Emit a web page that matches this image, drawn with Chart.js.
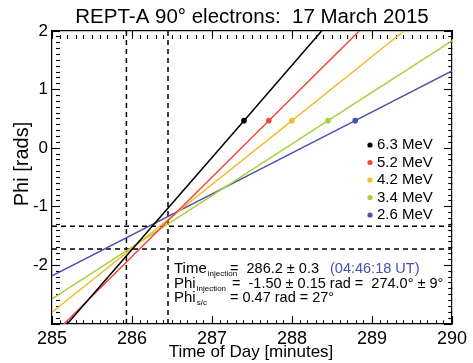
<!DOCTYPE html>
<html>
<head>
<meta charset="utf-8">
<script src="https://cdn.jsdelivr.net/npm/chart.js@4"></script>
<style>
  html, body { margin: 0; padding: 0; background: #fff; }
</style>
</head>
<body>
<canvas id="chart" width="473" height="363"></canvas>
<script>
// values
const energies = ["6.3 MeV", "5.2 MeV", "4.2 MeV", "3.4 MeV", "2.6 MeV"];
const colors = ["#000000", "#f0483c", "#f2bc2c", "#a6d23c", "#4a4fae"];
const lineStart = [[285.19, -3], [285.15, -3], [285.0, -2.80], [285.0, -2.57], [285.0, -2.18]];
const dotTimes = [287.40, 287.71, 288.00, 288.45, 288.79];
const phiSc = 0.47;
const lineEnd = [[288.37, 2], [288.84, 2], [289.40, 2], [290.0, 1.83], [290.0, 1.32]];
const timeBounds = [285.93, 286.45];
const phiBounds = [-1.33, -1.72];
const xTicks = [285, 286, 287, 288, 289, 290];
const yTicks = [-3, -2, -1, 0, 1, 2];
const minorStep = 0.1;

const FONT = "'Liberation Sans', Arial, sans-serif";

const datasets = energies.map((e, i) => ({
  label: e,
  data: [
    { x: lineStart[i][0], y: lineStart[i][1] },
    { x: dotTimes[i], y: phiSc },
    { x: lineEnd[i][0], y: lineEnd[i][1] }
  ],
  showLine: true,
  borderColor: colors[i],
  backgroundColor: colors[i],
  borderWidth: 1.5,
  pointRadius: [0, 2.8, 0],
  pointBorderWidth: 0
}));

timeBounds.forEach(t => datasets.push({
  label: "",
  data: [{ x: t, y: yTicks[0] }, { x: t, y: yTicks[yTicks.length - 1] }],
  showLine: true, borderColor: "#000", borderWidth: 1.5, borderDash: [5, 4], pointRadius: 0
}));
phiBounds.forEach(p => datasets.push({
  label: "",
  data: [{ x: xTicks[0], y: p }, { x: xTicks[xTicks.length - 1], y: p }],
  showLine: true, borderColor: "#000", borderWidth: 1.5, borderDash: [5, 4], pointRadius: 0
}));

// all tick positions (major + minor) for one axis
function allTicks(major) {
  const lo = major[0], hi = major[major.length - 1];
  const n = Math.round((hi - lo) / minorStep);
  const out = [];
  for (let i = 0; i <= n; i++) out.push({ value: +(lo + i * minorStep).toFixed(2) });
  return out;
}
const isMajor = (major, v) => major.some(m => Math.abs(m - v) < 1e-6);

// inward IDL-style ticks drawn by the axes themselves
function axis(major, position, showLabels, size, fontSize, pad) {
  return {
    type: "linear",
    position,
    display: true,
    min: major[0],
    max: major[major.length - 1],
    afterBuildTicks: s => { s.ticks = allTicks(major); },
    ticks: {
      display: showLabels,
      autoSkip: false,
      maxRotation: 0,
      color: "#000",
      font: { family: FONT, size: fontSize },
      padding: pad,
      callback: v => (isMajor(major, v) && v !== yTicks[0] ? v : "")
    },
    grid: {
      display: true,
      drawOnChartArea: false,
      drawTicks: true,
      tickLength: -8,
      tickColor: "#000",
      tickWidth: 1.1,
      tickBorderDash: c => (c.tick && isMajor(major, c.tick.value) ? [] : [4, 30])
    },
    border: { display: true, color: "#000", width: 1.2 },
    afterFit: s => {
      if (position === "bottom" || position === "top") {
        s.height = size;
        s.paddingLeft = 0;
        s.paddingRight = 0;
      } else {
        s.width = size;
        s.paddingTop = 0;
        s.paddingBottom = 0;
      }
    }
  };
}

function subText(ctx, x, y, main, sub, size) {
  ctx.font = size + "px " + FONT;
  ctx.fillText(main, x, y);
  const w = ctx.measureText(main).width;
  ctx.font = Math.round(size * 0.5) + "px " + FONT;
  ctx.fillText(sub, x + w + 1, y + 3);
}

const decorations = {
  id: "decorations",
  afterDraw(chart) {
    const ctx = chart.ctx;
    ctx.save();
    ctx.fillStyle = "#000";
    ctx.textAlign = "center";
    ctx.textBaseline = "alphabetic";
    ctx.font = "20.5px " + FONT;
    ctx.fillText("REPT-A 90\u00b0 electrons:  17 March 2015", 252, 23);

    ctx.font = "17px " + FONT;
    ctx.fillText("Time of Day [minutes]", 251, 357);

    ctx.save();
    ctx.translate(28, 164);
    ctx.rotate(-Math.PI / 2);
    ctx.font = "20px " + FONT;
    ctx.fillText("Phi [rads]", 0, 0);
    ctx.restore();

    // legend
    ctx.textAlign = "left";
    ctx.textBaseline = "middle";
    ctx.font = "15px " + FONT;
    energies.forEach((e, i) => {
      const ly = 145 + i * 17.5;
      ctx.fillStyle = colors[i];
      ctx.beginPath();
      ctx.arc(370, ly, 2.6, 0, Math.PI * 2);
      ctx.fill();
      ctx.fillStyle = "#000";
      ctx.fillText(e, 377, ly);
    });

    // injection text box
    ctx.textBaseline = "alphabetic";
    ctx.fillStyle = "#000";
    subText(ctx, 174, 273, "Time", "injection", 15);
    ctx.font = "14.5px " + FONT;
    ctx.fillText("=  286.2 \u00b1 0.3", 230, 273);
    ctx.fillStyle = "#4a4fae";
    ctx.fillText("(04:46:18 UT)", 330, 273);
    ctx.fillStyle = "#000";
    subText(ctx, 174, 288, "Phi", "injection", 15);
    ctx.font = "14.5px " + FONT;
    ctx.fillText("=  -1.50 \u00b1 0.15 rad =  274.0\u00b0 \u00b1 9\u00b0", 232, 288);
    subText(ctx, 174, 302, "Phi", "s/c", 15);
    ctx.font = "14.5px " + FONT;
    ctx.fillText("= 0.47 rad = 27\u00b0", 230, 302);
    ctx.restore();
  }
};

new Chart(document.getElementById("chart"), {
  type: "scatter",
  data: { datasets },
  options: {
    responsive: false,
    animation: false,
    devicePixelRatio: 1,
    layout: { padding: { left: 0, right: 21, top: 31, bottom: 0 } },
    plugins: { legend: { display: false }, tooltip: { enabled: false } },
    scales: {
      x: axis(xTicks, "bottom", true, 39, 18, 12),
      y: axis(yTicks, "left", true, 52, 17, 12),
      x2: axis(xTicks, "top", false, 0, 18, 0),
      y2: axis(yTicks, "right", false, 0, 17, 0)
    }
  },
  plugins: [decorations]
});
</script>
</body>
</html>
